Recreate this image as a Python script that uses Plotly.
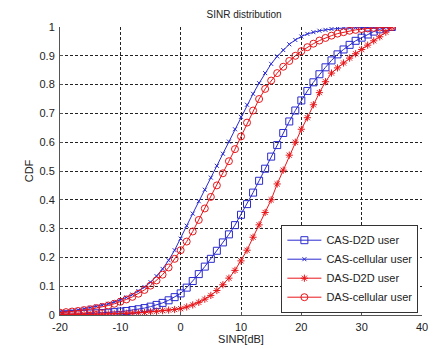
import plotly.graph_objects as go

sinr_db = list(range(-20, 36))

cas_d2d = [0.002, 0.002, 0.003, 0.003, 0.004, 0.005, 0.006, 0.007, 0.008, 0.010,
           0.012, 0.014, 0.017, 0.020, 0.024, 0.029, 0.035, 0.042, 0.051, 0.062,
           0.075, 0.095, 0.118, 0.142, 0.168, 0.195, 0.223, 0.252, 0.280, 0.312,
           0.348, 0.385, 0.425, 0.466, 0.508, 0.550, 0.590, 0.632, 0.672, 0.710,
           0.745, 0.778, 0.808, 0.836, 0.860, 0.884, 0.905, 0.922, 0.938, 0.952,
           0.963, 0.974, 0.984, 0.992, 0.998, 1.000]

cas_cell = [0.010, 0.012, 0.015, 0.018, 0.022, 0.026, 0.030, 0.034, 0.039, 0.045,
            0.052, 0.061, 0.071, 0.083, 0.097, 0.114, 0.135, 0.160, 0.190, 0.225,
            0.265, 0.310, 0.352, 0.395, 0.435, 0.477, 0.518, 0.560, 0.602, 0.645,
            0.688, 0.730, 0.768, 0.805, 0.840, 0.872, 0.898, 0.920, 0.940, 0.955,
            0.967, 0.976, 0.982, 0.987, 0.990, 0.993, 0.995, 0.996, 0.997, 0.998,
            0.998, 0.999, 0.999, 1.000, 1.000, 1.000]

das_d2d = [0.001, 0.001, 0.001, 0.002, 0.002, 0.002, 0.003, 0.003, 0.004, 0.004,
           0.005, 0.006, 0.007, 0.008, 0.009, 0.011, 0.013, 0.015, 0.017, 0.019,
           0.022, 0.028, 0.035, 0.044, 0.055, 0.068, 0.085, 0.105, 0.128, 0.155,
           0.188, 0.225, 0.270, 0.313, 0.356, 0.400, 0.455, 0.503, 0.555, 0.600,
           0.645, 0.685, 0.730, 0.772, 0.810, 0.840, 0.858, 0.875, 0.892, 0.907,
           0.922, 0.937, 0.952, 0.966, 0.982, 1.000]

das_cell = [0.008, 0.010, 0.012, 0.014, 0.017, 0.020, 0.024, 0.028, 0.033, 0.039,
            0.046, 0.054, 0.063, 0.074, 0.087, 0.102, 0.120, 0.140, 0.165, 0.195,
            0.225, 0.255, 0.290, 0.330, 0.370, 0.410, 0.450, 0.492, 0.534, 0.576,
            0.620, 0.668, 0.710, 0.750, 0.785, 0.814, 0.840, 0.862, 0.882, 0.900,
            0.916, 0.930, 0.942, 0.953, 0.962, 0.970, 0.977, 0.982, 0.987, 0.990,
            0.993, 0.995, 0.997, 0.998, 0.999, 1.000]

x_ticks = [-20, -10, 0, 10, 20, 30, 40]
y_ticks = [0, 0.1, 0.2, 0.3, 0.4, 0.5, 0.6, 0.7, 0.8, 0.9, 1]
y_tick_text = ["0", "0.1", "0.2", "0.3", "0.4", "0.5", "0.6", "0.7", "0.8", "0.9", "1"]

BLUE = "#2a2ad0"
RED = "#e8161a"

series = [
    ("CAS-D2D user", cas_d2d, BLUE, "square-open", 7),
    ("CAS-cellular user", cas_cell, BLUE, "x-thin-open", 4),
    ("DAS-D2D user", das_d2d, RED, "asterisk-open", 6),
    ("DAS-cellular user", das_cell, RED, "circle-open", 7),
]

fig = go.Figure()
for name, ys, col, sym, size in series:
    fig.add_trace(go.Scatter(
        x=sinr_db, y=ys, name=name, mode="lines+markers",
        line=dict(color=col, width=1),
        marker=dict(symbol=sym, size=size, color=col, line=dict(color=col, width=1)),
    ))

fig.update_layout(
    width=434, height=349,
    margin=dict(l=60, r=6, t=27, b=33),
    paper_bgcolor="white", plot_bgcolor="white",
    font=dict(family="Liberation Sans, Arial, sans-serif", size=10, color="#222"),
    title=dict(text="SINR distribution", x=(60 + 428) / 2 / 434, xanchor="center",
               y=1 - 14 / 349, yanchor="middle", font=dict(size=10, color="#222")),
    showlegend=True,
    legend=dict(x=0.99, y=0.008, xanchor="right", yanchor="bottom",
                bgcolor="white", bordercolor="#333", borderwidth=1,
                font=dict(size=11, color="#222"), itemwidth=34,
                tracegroupgap=0),
)
fig.update_xaxes(
    range=[-20, 40], tickvals=x_ticks, ticktext=[str(v) for v in x_ticks],
    showgrid=True, gridcolor="#222", griddash="3px,2px", gridwidth=1,
    showline=True, linecolor="#555", linewidth=1, mirror=False,
    ticks="inside", ticklen=3, tickcolor="#555",
    zeroline=False, tickfont=dict(size=11), ticklabeloverflow="allow",
    ticklabelstandoff=2,
    title=dict(text="SINR[dB]", standoff=2, font=dict(size=11)),
)
fig.update_yaxes(
    range=[0, 1], tickvals=y_ticks, ticktext=y_tick_text,
    showgrid=True, gridcolor="#222", griddash="3px,2px", gridwidth=1,
    showline=True, linecolor="#555", linewidth=1, mirror=False,
    ticks="inside", ticklen=3, tickcolor="#555",
    zeroline=False, tickfont=dict(size=11), ticklabelstandoff=2,
    title=dict(text="CDF", standoff=3, font=dict(size=11)),
)

fig.write_html("out.html")
